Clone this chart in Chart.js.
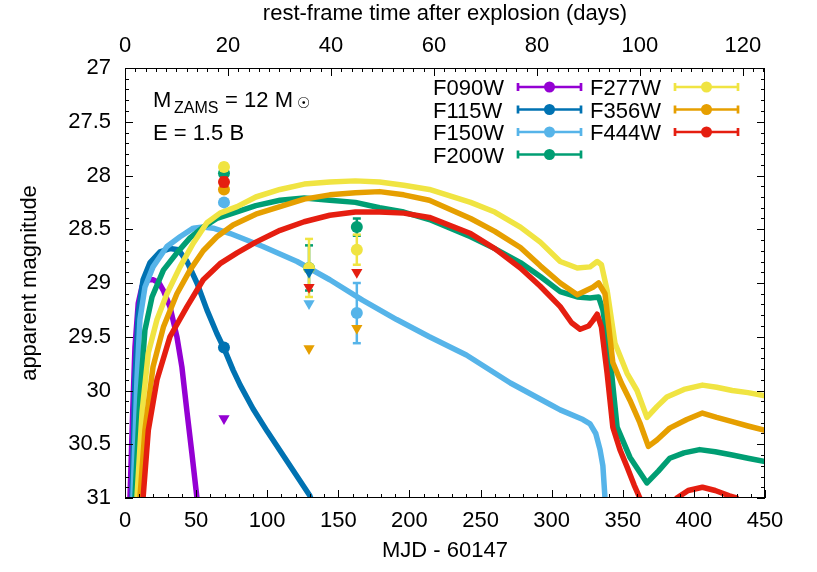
<!DOCTYPE html>
<html>
<head>
<meta charset="utf-8">
<script src="https://cdn.jsdelivr.net/npm/chart.js@4.4.0/dist/chart.umd.min.js"></script>
<style>
  html, body { margin: 0; padding: 0; background: #fff; }
  #wrap { width: 817px; height: 572px; }
</style>
</head>
<body>
<div id="wrap"><canvas id="lcChart" width="817" height="572"></canvas></div>
<script>
// filters and gnuplot default colours
const filters = ['F090W', 'F115W', 'F150W', 'F200W', 'F277W', 'F356W', 'F444W'];
const colors  = ['#9400d3', '#0072b2', '#56b4e9', '#009e73', '#f0e442', '#e69f00', '#e51e10'];

// observation epochs (MJD - 60147)
const epochs = [69.6, 129.4, 163.0];

// rest-frame axis upper end (days) matching MJD 450
const restMax = 124.3;

// model light curves, MJD - 60147 vs apparent magnitude
const tF090W = [2.8, 3.5, 5.4, 7, 9.3, 12, 14, 17, 20, 24, 27, 31.6, 36.5, 40, 43.6, 47, 50.6, 52];
const mF090W = [31.5, 31.0, 30.2, 29.6, 29.19, 29.03, 28.99, 28.97, 28.97, 29.0, 29.07, 29.22, 29.5, 29.78, 30.2, 30.58, 31.0, 31.2];

const tF115W = [4.3, 5, 7, 9.3, 12.7, 17.6, 24.6, 31.6, 37.5, 43.6, 50.6, 57.6, 64.6, 70, 76, 81, 90, 100, 110, 120, 130, 132];
const mF115W = [31.5, 31.0, 29.9, 29.28, 28.97, 28.81, 28.71, 28.68, 28.69, 28.8, 29.0, 29.25, 29.47, 29.62, 29.81, 29.95, 30.17, 30.38, 30.58, 30.78, 30.98, 31.05];

const tF150W = [4.8, 5.6, 8.4, 10.5, 14, 19.7, 29.5, 38.7, 48, 55, 62, 74, 97, 121, 144, 167, 191, 214, 240, 271, 299, 306, 322, 327, 331, 334, 336, 337.5, 338.5];
const mF150W = [31.5, 31.0, 29.9, 29.34, 29.04, 28.85, 28.66, 28.57, 28.49, 28.48, 28.49, 28.54, 28.66, 28.8, 28.97, 29.16, 29.34, 29.5, 29.67, 29.93, 30.13, 30.18, 30.27, 30.31, 30.4, 30.55, 30.7, 31.0, 31.3];

const tF200W = [6, 7, 10.5, 14, 19, 27, 36.5, 45.7, 55, 64.6, 76, 92, 109, 126, 144, 162, 179, 196, 214, 243, 260, 278, 292, 306, 318, 327, 333, 336, 341, 346, 355, 367, 375, 383, 393, 404, 415, 427, 438, 450];
const mF200W = [31.5, 31.0, 30.06, 29.44, 29.13, 28.88, 28.72, 28.58, 28.48, 28.4, 28.35, 28.28, 28.23, 28.21, 28.23, 28.25, 28.3, 28.34, 28.41, 28.57, 28.68, 28.81, 28.94, 29.08, 29.13, 29.14, 29.13, 29.25, 29.69, 30.34, 30.62, 30.86, 30.75, 30.63, 30.58, 30.55, 30.57, 30.6, 30.63, 30.66];

const tF277W = [7.5, 8.4, 12, 16.4, 22.5, 29.5, 38.7, 48, 57.6, 66.8, 78.8, 92, 109, 126, 144, 162, 179, 196, 214, 243, 260, 278, 292, 306, 318, 327, 332, 335, 339, 344.5, 353, 360, 367, 374, 381, 393, 406, 416, 427, 438, 450];
const mF277W = [31.5, 31.0, 30.2, 29.65, 29.34, 29.1, 28.85, 28.63, 28.44, 28.35, 28.29, 28.2, 28.13, 28.08, 28.06, 28.05, 28.06, 28.09, 28.13, 28.25, 28.34, 28.48, 28.62, 28.8, 28.86, 28.85, 28.8, 28.83, 29.07, 29.56, 29.84, 30.0, 30.25, 30.15, 30.06, 29.99, 29.95, 29.97, 30.0, 30.02, 30.05];

const tF356W = [9.6, 10.5, 14, 19.7, 27, 36.5, 45.7, 55, 64.6, 76, 92, 109, 126, 144, 162, 179, 196, 214, 243, 260, 278, 292, 306, 318, 329, 333, 337.5, 343, 349, 355, 362, 368, 374, 383, 395, 406, 416, 427, 438, 450];
const mF356W = [31.5, 31.0, 30.37, 29.78, 29.41, 29.1, 28.88, 28.7, 28.57, 28.46, 28.36, 28.29, 28.22, 28.18, 28.16, 28.15, 28.18, 28.23, 28.4, 28.52, 28.67, 28.84, 29.0, 29.11, 29.04, 29.0, 29.1, 29.74, 29.93, 30.09, 30.3, 30.52, 30.46, 30.35, 30.27, 30.21, 30.25, 30.29, 30.33, 30.37];

const tF444W = [11.5, 12.7, 16.4, 22.5, 31.6, 43.6, 55, 66.8, 78.8, 92, 109, 126, 144, 162, 179, 196, 214, 243, 260, 278, 292, 306, 314, 320, 326, 329, 332, 335, 339, 343, 348, 353, 358, 362, 364,
                375, 385, 388, 396, 406, 415, 425, 430, 433];
const mF444W = [31.5, 31.0, 30.37, 29.9, 29.5, 29.22, 28.97, 28.82, 28.72, 28.62, 28.51, 28.43, 28.37, 28.34, 28.34, 28.35, 28.39, 28.54, 28.68, 28.86, 29.03, 29.22, 29.37, 29.43, 29.4, 29.35, 29.29, 29.41, 29.84, 30.34, 30.55, 30.71, 30.88, 31.0, 31.1,
                null, 31.1, 31.0, 30.93, 30.9, 30.93, 30.98, 31.0, 31.1];

const modelT = [tF090W, tF115W, tF150W, tF200W, tF277W, tF356W, tF444W];
const modelM = [mF090W, mF115W, mF150W, mF200W, mF277W, mF356W, mF444W];

// detections (mag, error) and upper limits at each epoch
const obsF090W = [null, null, null];   const errF090W = [null, null, null];  const limF090W = [30.26, null, null];
const obsF115W = [29.60, null, null];  const errF115W = [0.03, null, null];  const limF115W = [null, 28.90, null];
const obsF150W = [28.25, null, 29.28]; const errF150W = [0.02, null, 0.28];  const limF150W = [null, 29.19, null];
const obsF200W = [27.98, 28.86, 28.48]; const errF200W = [0.03, 0.21, 0.08]; const limF200W = [null, null, null];
const obsF277W = [27.92, 28.86, 28.69]; const errF277W = [0.03, 0.27, 0.14]; const limF277W = [null, null, null];
const obsF356W = [28.13, null, null];  const errF356W = [0.03, null, null];  const limF356W = [null, 29.61, 29.42];
const obsF444W = [28.06, null, null];  const errF444W = [0.04, null, null];  const limF444W = [null, 29.04, 28.90];

const obsMag = [obsF090W, obsF115W, obsF150W, obsF200W, obsF277W, obsF356W, obsF444W];
const obsErr = [errF090W, errF115W, errF150W, errF200W, errF277W, errF356W, errF444W];
const limMag = [limF090W, limF115W, limF150W, limF200W, limF277W, limF356W, limF444W];

const fontFamily = "'Liberation Sans', Arial, Helvetica, sans-serif";
Chart.defaults.font.family = fontFamily;
Chart.defaults.font.size = 22;
Chart.defaults.color = '#000';

var datasets = [];
filters.forEach(function (f, k) {
  datasets.push({
    type: 'line', label: f,
    data: modelT[k].map(function (t, i) { return { x: t, y: modelM[k][i] }; }),
    borderColor: colors[k], borderWidth: 5.5, borderJoinStyle: 'round',
    pointRadius: 0, tension: 0, spanGaps: false, clip: 0,
    order: 20 - k
  });
});
filters.forEach(function (f, k) {
  var bars = [], pts = [], lims = [];
  epochs.forEach(function (e, i) {
    if (obsMag[k][i] != null) {
      bars.push({ x: e, y: obsMag[k][i] - obsErr[k][i] }, { x: e, y: obsMag[k][i] + obsErr[k][i] }, { x: e, y: null });
      pts.push({ x: e, y: obsMag[k][i] });
    }
    if (limMag[k][i] != null) lims.push({ x: e, y: limMag[k][i] });
  });
  datasets.push({
    type: 'line', data: bars, borderColor: colors[k], borderWidth: 2.5, spanGaps: false,
    pointStyle: 'line', pointRadius: 4, pointBorderColor: colors[k], pointBorderWidth: 2.5,
    order: 10 - k
  });
  datasets.push({
    type: 'scatter', data: pts, pointStyle: 'circle', pointRadius: 6,
    backgroundColor: colors[k], borderColor: colors[k], borderWidth: 0,
    order: 9.5 - k
  });
  datasets.push({
    type: 'scatter', data: lims, pointStyle: 'triangle', rotation: 180, pointRadius: 6.5,
    backgroundColor: colors[k], borderColor: colors[k], borderWidth: 0,
    order: 2 - k * 0.1
  });
});

// frame with inward ticks, key and the model label
const gnuFrame = {
  id: 'gnuFrame',
  afterDatasetsDraw: function (chart) {
    var ctx = chart.ctx, a = chart.chartArea, sx = chart.scales.x, sx2 = chart.scales.x2, sy = chart.scales.y;
    ctx.save();
    ctx.strokeStyle = '#000';
    ctx.lineWidth = 1;
    function seg(x1, y1, x2, y2) { ctx.beginPath(); ctx.moveTo(x1, y1); ctx.lineTo(x2, y2); ctx.stroke(); }
    var j, p;
    for (j = 0; j <= 45; j++) {
      p = Math.round(sx.getPixelForValue(j * 10)) + 0.5;
      seg(p, a.bottom, p, a.bottom - (j % 5 === 0 ? 8 : 4));
    }
    for (j = 0; j <= 62; j++) {
      p = Math.round(sx2.getPixelForValue(j * 2)) + 0.5;
      seg(p, a.top, p, a.top + (j % 10 === 0 ? 8 : 4));
    }
    for (j = 0; j <= 40; j++) {
      p = Math.round(sy.getPixelForValue(27 + j * 0.1)) + 0.5;
      var len = (j % 5 === 0 ? 8 : 4);
      seg(a.left, p, a.left + len, p);
      seg(a.right, p, a.right - len, p);
    }
    ctx.strokeRect(Math.round(a.left) + 0.5, Math.round(a.top) + 0.5, Math.round(a.width) - 1, Math.round(a.height) - 1);

    // key
    var colX = [433, 590], lineX = [[518, 581], [675, 738]], rowY = [87, 109.5, 132, 154.5];
    ctx.font = '22px ' + fontFamily;
    ctx.textAlign = 'left';
    ctx.textBaseline = 'alphabetic';
    filters.forEach(function (f, k) {
      var c = k < 4 ? 0 : 1, r = k < 4 ? k : k - 4, y = rowY[r];
      ctx.fillStyle = '#000';
      ctx.fillText(f, colX[c], y + 8);
      var x1 = lineX[c][0], x2 = lineX[c][1];
      ctx.strokeStyle = colors[k];
      ctx.lineWidth = 2.7;
      seg(x1, y, x2, y);
      seg(x1, y - 4, x1, y + 4);
      seg(x2, y - 4, x2, y + 4);
      ctx.fillStyle = colors[k];
      ctx.beginPath(); ctx.arc((x1 + x2) / 2, y, 5.5, 0, Math.PI * 2); ctx.fill();
    });

    // model label
    ctx.fillStyle = '#000';
    ctx.font = '22px ' + fontFamily;
    ctx.fillText('M', 153, 107);
    ctx.font = '16px ' + fontFamily;
    ctx.fillText('ZAMS', 174, 113);
    ctx.font = '22px ' + fontFamily;
    ctx.fillText(' = 12 M', 219, 107);
    ctx.font = '15px "DejaVu Sans"';
    ctx.fillText('\u2609', 297, 108);
    ctx.font = '22px ' + fontFamily;
    ctx.fillText('E = 1.5 B', 153, 140);
    ctx.restore();
  }
};

new Chart(document.getElementById('lcChart').getContext('2d'), {
  type: 'scatter',
  data: { datasets: datasets },
  options: {
    responsive: false,
    devicePixelRatio: 1,
    animation: false,
    events: [],
    layout: { padding: { left: 0, right: 52, top: 0, bottom: 0 } },
    plugins: { legend: { display: false }, tooltip: { enabled: false } },
    scales: {
      x: {
        type: 'linear', position: 'bottom', min: 0, max: 450,
        grid: { display: false, drawTicks: false }, border: { display: false },
        ticks: { stepSize: 50, padding: 10, maxRotation: 0, autoSkip: false, color: '#000' },
        title: { display: true, text: 'MJD - 60147', color: '#000', padding: { top: 0, bottom: 8 } },
        afterFit: function (s) { s.height = 74; }
      },
      x2: {
        type: 'linear', position: 'top', min: 0, max: restMax,
        grid: { display: false, drawTicks: false }, border: { display: false },
        ticks: { stepSize: 20, includeBounds: false, padding: 9, maxRotation: 0, autoSkip: false, color: '#000' },
        title: { display: true, text: 'rest-frame time after explosion (days)', color: '#000', padding: { top: 1, bottom: 0 } },
        afterFit: function (s) { s.height = 68; }
      },
      y: {
        type: 'linear', position: 'left', min: 27, max: 31, reverse: true,
        grid: { display: false, drawTicks: false }, border: { display: false },
        ticks: { stepSize: 0.5, padding: 14, color: '#000', callback: function (v) { return String(v); } },
        title: { display: true, text: 'apparent magnitude', color: '#000', padding: { top: 17, bottom: 0 } },
        afterFit: function (s) { s.width = 125; }
      }
    }
  },
  plugins: [gnuFrame]
});
</script>
</body>
</html>
